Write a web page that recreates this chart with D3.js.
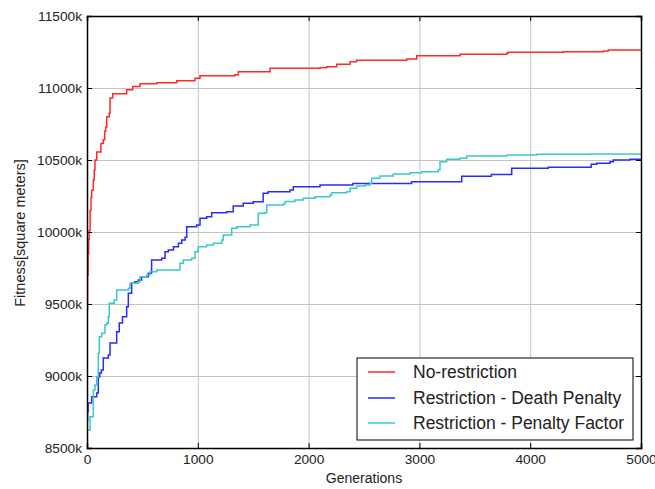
<!DOCTYPE html>
<html>
<head>
<meta charset="utf-8">
<script src="https://cdn.jsdelivr.net/npm/d3@7"></script>
<style>
  body { margin: 0; background: #fff; }
  text { font-family: "Liberation Sans", Arial, sans-serif; fill: #222; }
</style>
</head>
<body>
<svg id="plot"></svg>
<script>
// data: [generation, fitness in k square meters]
const noRestriction = [
    [0, 9460], [5, 9700], [10, 9850], [15, 9950], [20, 10010], [28, 10150], [36, 10240],
    [42, 10290], [57, 10360], [65, 10430], [72, 10500], [88, 10555], [126, 10615],
    [147, 10640], [160, 10700], [169, 10730], [178, 10800], [201, 10825], [208, 10930],
    [232, 10960], [358, 10988], [412, 11010], [478, 11030], [629, 11037], [810, 11051],
    [975, 11067], [1020, 11085], [1335, 11092], [1366, 11113], [1652, 11137], [2103, 11141],
    [2163, 11148], [2254, 11165], [2374, 11183], [2434, 11192], [2885, 11201], [2976, 11224],
    [3367, 11234], [3788, 11241], [3800, 11248], [4300, 11252], [4660, 11257], [4705, 11264],
    [5000, 11264]
];
const deathPenalty = [
    [0, 8690], [5, 8752], [10, 8813], [42, 8856], [88, 8882], [102, 8995], [115, 9021],
    [130, 9042], [147, 9125], [192, 9146], [208, 9229], [268, 9308], [291, 9368], [320, 9412],
    [358, 9481], [373, 9574], [403, 9644], [433, 9655], [463, 9667], [493, 9690], [553, 9713],
    [583, 9806], [674, 9817], [704, 9863], [734, 9875], [780, 9898], [825, 9922], [855, 9945],
    [885, 9963], [900, 10037], [990, 10049], [1020, 10095], [1080, 10106], [1125, 10134],
    [1260, 10141], [1320, 10181], [1410, 10199], [1500, 10210], [1590, 10269], [1635, 10280],
    [1832, 10292], [1862, 10315], [2103, 10326], [2400, 10336], [2930, 10349], [3382, 10387],
    [3650, 10400], [3833, 10442], [4163, 10449], [4550, 10470], [4600, 10477], [4720, 10488],
    [4750, 10500], [4900, 10505], [5000, 10505]
];
const penaltyFactor = [
    [0, 8625], [27, 8717], [57, 8903], [72, 8938], [88, 8995], [102, 9158], [111, 9273],
    [133, 9297], [162, 9354], [178, 9366], [192, 9412], [201, 9505], [246, 9528], [268, 9597],
    [373, 9609], [388, 9644], [463, 9655], [478, 9690], [539, 9701], [569, 9724], [629, 9736],
    [839, 9783], [869, 9806], [945, 9817], [975, 9863], [1004, 9898], [1080, 9910],
    [1140, 9922], [1216, 9945], [1230, 9979], [1306, 10026], [1351, 10037], [1471, 10049],
    [1546, 10130], [1606, 10134], [1622, 10188], [1772, 10195], [1787, 10211], [1877, 10222],
    [1952, 10234], [2058, 10245], [2193, 10257], [2208, 10273], [2344, 10280], [2374, 10304],
    [2434, 10320], [2509, 10326], [2554, 10338], [2569, 10373], [2644, 10389], [2764, 10403],
    [2915, 10412], [3021, 10419], [3170, 10431], [3186, 10488], [3246, 10505], [3366, 10512],
    [3427, 10528], [3788, 10535], [4059, 10540], [4540, 10542], [5000, 10547]
];
const seriesNames = ["No-restriction", "Restriction - Death Penalty", "Restriction - Penalty Factor"];
const seriesColors = ["#ff2a2a", "#2a2aff", "#3cc8c8"];
const xTicks = [0, 1000, 2000, 3000, 4000, 5000];
const yTicks = [8500, 9000, 9500, 10000, 10500, 11000, 11500];

// init setting
const svg = d3.select("#plot")
    .attr("width", 655)
    .attr("height", 489);
const margin = { top: 16, right: 14, bottom: 41, left: 87 };
const width = 655 - margin.left - margin.right;
const height = 489 - margin.top - margin.bottom;

const xScale = d3.scaleLinear().domain([0, 5000]).range([margin.left, margin.left + width]);
const yScale = d3.scaleLinear().domain([8500, 11500]).range([margin.top + height, margin.top]);

// grid
svg.append("g")
    .attr("transform", `translate(0, ${margin.top + height})`)
    .call(d3.axisBottom(xScale).tickValues(xTicks).tickSize(-height).tickFormat(""))
    .call(g => g.select(".domain").remove())
    .selectAll("line").attr("stroke", "#c4c4c4");
svg.append("g")
    .attr("transform", `translate(${margin.left}, 0)`)
    .call(d3.axisLeft(yScale).tickValues(yTicks).tickSize(-width).tickFormat(""))
    .call(g => g.select(".domain").remove())
    .selectAll("line").attr("stroke", "#c4c4c4");

// lines
svg.append("clipPath").attr("id", "clip")
    .append("rect")
    .attr("x", margin.left).attr("y", margin.top)
    .attr("width", width).attr("height", height);

const line = d3.line()
    .x(d => xScale(d[0]))
    .y(d => yScale(d[1]))
    .curve(d3.curveStepAfter);

[noRestriction, deathPenalty, penaltyFactor].forEach((s, i) => {
    svg.append("path")
        .datum(s)
        .attr("clip-path", "url(#clip)")
        .attr("fill", "none")
        .attr("stroke", seriesColors[i])
        .attr("stroke-width", 1.5)
        .attr("d", line);
});

// axes (ticks pointing inward, on all sides)
const xAxis = svg.append("g")
    .attr("transform", `translate(0, ${margin.top + height})`)
    .call(d3.axisBottom(xScale).tickValues(xTicks).tickSize(-5).tickPadding(6).tickFormat(d3.format("d")));
const yAxis = svg.append("g")
    .attr("transform", `translate(${margin.left}, 0)`)
    .call(d3.axisLeft(yScale).tickValues(yTicks).tickSize(-5).tickPadding(5).tickFormat(d => d + "k"));
svg.append("g")
    .attr("transform", `translate(0, ${margin.top})`)
    .call(d3.axisTop(xScale).tickValues(xTicks).tickSize(-5).tickFormat(""));
svg.append("g")
    .attr("transform", `translate(${margin.left + width}, 0)`)
    .call(d3.axisRight(yScale).tickValues(yTicks).tickSize(-5).tickFormat(""));

svg.selectAll(".tick line").filter(function() { return this.getAttribute("stroke") === "currentColor"; })
    .attr("stroke", "#000");
svg.selectAll(".domain").attr("stroke", "#000").attr("stroke-width", 1.5);
xAxis.selectAll("text").style("font-size", "13.7px").attr("fill", "#222");
yAxis.selectAll("text").style("font-size", "13.7px").attr("fill", "#222");

// labels
svg.append("text")
    .attr("x", margin.left + width / 2)
    .attr("y", 483)
    .style("text-anchor", "middle")
    .style("font-size", "14px")
    .text("Generations");
svg.append("text")
    .attr("transform", `translate(25, ${margin.top + height / 2 + 1}) rotate(-90)`)
    .style("text-anchor", "middle")
    .style("font-size", "14.5px")
    .text("Fitness[square meters]");

// legend
const legend = svg.append("g");
legend.append("rect")
    .attr("x", 357).attr("y", 358)
    .attr("width", 276).attr("height", 82)
    .attr("fill", "#fff").attr("stroke", "#000").attr("stroke-width", 1);
const legendRows = [372, 398, 423];
seriesNames.forEach((name, i) => {
    legend.append("line")
        .attr("x1", 368).attr("x2", 395)
        .attr("y1", legendRows[i]).attr("y2", legendRows[i])
        .attr("stroke", seriesColors[i]).attr("stroke-width", 1.5);
    legend.append("text")
        .attr("x", 413).attr("y", legendRows[i] + 6)
        .style("font-size", "17.5px")
        .text(name);
});
</script>
</body>
</html>
